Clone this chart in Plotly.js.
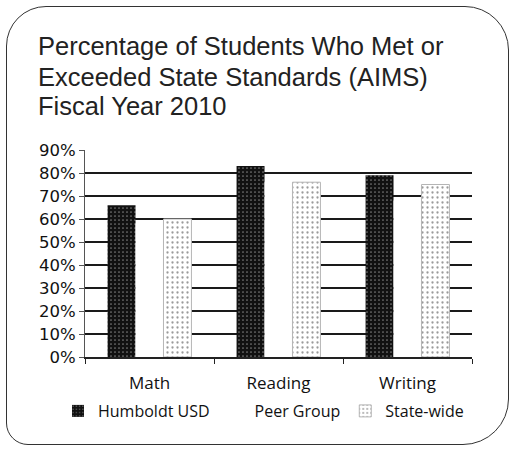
<!DOCTYPE html>
<html>
<head>
<meta charset="utf-8">
<script src="https://cdn.plot.ly/plotly-3.0.1.min.js"></script>
<style>
  html, body { margin: 0; padding: 0; background: #fff; }
  #wrap { position: relative; width: 513px; height: 451px; }
  #chart { position: absolute; left: 0; top: 0; width: 513px; height: 451px; }
  #frame { position: absolute; left: 6px; top: 6px; width: 501px; height: 437px;
           border: 1.5px solid #333; border-radius: 40px 44px 46px 22px; pointer-events: none; }
</style>
</head>
<body>
<div id="wrap"><div id="chart"></div><div id="frame"></div></div>
<script>
// ---- data ----
const categories = ["Math", "Reading", "Writing"];
const seriesNames = ["Humboldt USD", "Peer Group", "State-wide"];
const humboldt = [66, 83, 79];
const peerGroup = [58, 76, 68];
const stateWide = [60, 76, 75];
const titleLines = ["Percentage of Students Who Met or", "Exceeded State Standards (AIMS)", "Fiscal Year 2010"];

const W = 513, H = 451;
const M = { l: 85, r: 41, t: 150, b: 94 };
const pw = W - M.l - M.r, ph = H - M.t - M.b;
const px2x = px => (px - M.l) / pw;
const py2y = py => (H - M.b - py) / ph;

const traces = [
  {
    type: "bar", name: seriesNames[0], x: categories, y: humboldt,
    marker: { color: "#111111", line: { width: 0 },
      pattern: { shape: ".", fgcolor: "#7a7a7a", bgcolor: "#111111", size: 4, solidity: 0.15 } }
  },
  {
    type: "bar", name: seriesNames[1], x: categories, y: peerGroup,
    marker: { color: "#ffffff", line: { width: 0 } }
  },
  {
    type: "bar", name: seriesNames[2], x: categories, y: stateWide,
    marker: { color: "#ffffff", line: { color: "#b5b5b5", width: 1 },
      pattern: { shape: ".", fgcolor: "#9a9a9a", bgcolor: "#ffffff", size: 5, solidity: 0.16 } }
  }
];

const titleCenters = [46, 76.5, 106];
const annotations = titleLines.map((t, i) => ({
  text: t, showarrow: false,
  xref: "paper", yref: "paper",
  x: px2x(36), xanchor: "left",
  y: py2y(titleCenters[i]), yanchor: "middle",
  font: { family: "Liberation Sans, Arial, sans-serif", size: 25.5, color: "#222" }
}));

const layout = {
  width: W, height: H,
  margin: M,
  paper_bgcolor: "rgba(0,0,0,0)",
  plot_bgcolor: "#ffffff",
  barmode: "group",
  bargap: 0.35,
  bargroupgap: 0,
  showlegend: true,
  annotations: annotations,
  xaxis: {
    type: "category",
    showline: true, linecolor: "#222", linewidth: 1.5,
    ticks: "outside", tickson: "boundaries", ticklen: 5, tickcolor: "#222",
    ticklabelstandoff: 10,
    tickfont: { family: "Open Sans, sans-serif", size: 17, color: "#111" },
    showgrid: false
  },
  yaxis: {
    range: [0, 90], dtick: 10, ticksuffix: "%",
    showline: true, linecolor: "#555", linewidth: 1,
    ticks: "outside", ticklen: 5, tickcolor: "#555",
    showgrid: true, gridcolor: "#1a1a1a", gridwidth: 1.5,
    zeroline: false,
    tickfont: { family: "DejaVu Sans, sans-serif", size: 16.5, color: "#111" }
  },
  legend: {
    orientation: "h",
    xref: "paper", yref: "paper",
    x: px2x(58), xanchor: "left",
    y: py2y(411), yanchor: "middle",
    font: { family: "Open Sans, sans-serif", size: 16, color: "#111" },
    itemwidth: 30,
    bgcolor: "rgba(0,0,0,0)"
  }
};

Plotly.newPlot("chart", traces, layout, { staticPlot: true, displayModeBar: false });
</script>
</body>
</html>
